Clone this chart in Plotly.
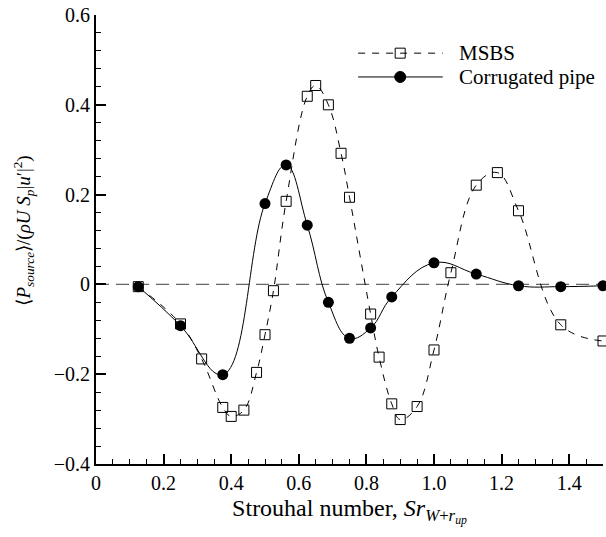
import plotly.graph_objects as go

# ---- data ----
msbs_x = [0.125, 0.25, 0.3125, 0.375, 0.4, 0.4375, 0.475, 0.5, 0.525, 0.5625,
          0.625, 0.65, 0.6875, 0.725, 0.75, 0.8125, 0.8375, 0.875, 0.9, 0.95,
          1.0, 1.05, 1.125, 1.1875, 1.25, 1.375, 1.5]
msbs_y = [-0.005, -0.088, -0.166, -0.274, -0.294, -0.280, -0.196, -0.112, -0.014, 0.185,
          0.419, 0.443, 0.400, 0.292, 0.194, -0.066, -0.162, -0.266, -0.301, -0.272,
          -0.146, 0.026, 0.221, 0.249, 0.164, -0.090, -0.126]

pipe_x = [0.125, 0.25, 0.375, 0.5, 0.5625, 0.625, 0.6875, 0.75, 0.8125, 0.875,
          1.0, 1.125, 1.25, 1.375, 1.5]
pipe_y = [-0.005, -0.092, -0.201, 0.180, 0.266, 0.132, -0.040, -0.120, -0.097, -0.028,
          0.048, 0.023, -0.003, -0.005, -0.003]

series_names = ["MSBS", "Corrugated pipe"]

x_ticks = [0, 0.2, 0.4, 0.6, 0.8, 1.0, 1.2, 1.4]
x_tick_labels = ["0", "0.2", "0.4", "0.6", "0.8", "1.0", "1.2", "1.4"]
y_ticks = [-0.4, -0.2, 0, 0.2, 0.4, 0.6]
y_tick_labels = ["\u22120.4", "\u22120.2", "0", "0.2", "0.4", "0.6"]

x_title = "Strouhal number, <i>Sr</i><sub><i>W</i>+<i>r</i><sub><i>up</i></sub></sub>"
y_title = ("\u27e8<i>P</i><sub><i>source</i></sub>\u27e9/(<i>\u03c1U S</i><sub><i>p</i></sub>"
           "|<i>u</i>\u2032|<sup>2</sup>)")

FONT = "Liberation Serif"

fig = go.Figure()

fig.add_trace(go.Scatter(
    x=msbs_x, y=msbs_y, name=series_names[0], mode="lines+markers", showlegend=False,
    line=dict(color="black", width=1, dash="7px,7px", shape="spline", smoothing=1.1),
    marker=dict(symbol="square-open", size=10, color="black", line=dict(width=1)),
    cliponaxis=False,
))
fig.add_trace(go.Scatter(
    x=pipe_x, y=pipe_y, name=series_names[1], mode="lines+markers", showlegend=False,
    line=dict(color="black", width=1, shape="spline", smoothing=1.2),
    marker=dict(symbol="circle", size=11, color="black"),
    cliponaxis=False,
))

# zero reference line
fig.add_shape(type="line", xref="paper", yref="y", x0=0, x1=1, y0=0, y1=0,
              line=dict(color="#666666", width=1.2, dash="13px,7px"), layer="below")

# ---- manual legend (paper coordinates) ----
leg_x0, leg_x1, leg_xm, leg_tx = 0.517, 0.684, 0.600, 0.712
leg_rows = [0.915, 0.862]
fig.add_shape(type="line", xref="paper", yref="paper", x0=leg_x0, x1=leg_x1,
              y0=leg_rows[0], y1=leg_rows[0], line=dict(color="black", width=1, dash="7px,7px"))
fig.add_shape(type="rect", xref="paper", yref="paper", xsizemode="pixel", ysizemode="pixel",
              xanchor=leg_xm, yanchor=leg_rows[0], x0=-5, x1=5, y0=-5, y1=5,
              line=dict(color="black", width=1), fillcolor="rgba(0,0,0,0)")
fig.add_shape(type="line", xref="paper", yref="paper", x0=leg_x0, x1=leg_x1,
              y0=leg_rows[1], y1=leg_rows[1], line=dict(color="black", width=1))
fig.add_shape(type="circle", xref="paper", yref="paper", xsizemode="pixel", ysizemode="pixel",
              xanchor=leg_xm, yanchor=leg_rows[1], x0=-5.5, x1=5.5, y0=-5.5, y1=5.5,
              line=dict(color="black", width=1), fillcolor="black")
for name, yy in zip(series_names, leg_rows):
    fig.add_annotation(text=name, xref="paper", yref="paper", x=leg_tx, y=yy,
                       xanchor="left", yanchor="middle", showarrow=False,
                       font=dict(family=FONT, size=21, color="black"))

# y-axis title as rotated annotation (positioned like the reference)
fig.add_annotation(text=y_title, xref="paper", yref="paper", x=-0.142, y=0.52,
                   xanchor="center", yanchor="middle", textangle=-90, showarrow=False,
                   font=dict(family=FONT, size=19, color="black"))

axis_common = dict(
    showline=True, linecolor="black", linewidth=2, mirror=False,
    ticks="inside", ticklen=10, tickwidth=2, tickcolor="black",
    showgrid=False, zeroline=False,
    tickfont=dict(family=FONT, size=20, color="black"),
)

fig.update_xaxes(
    range=[0, 1.5], tickmode="array", tickvals=x_ticks, ticktext=x_tick_labels,
    minor=dict(dtick=0.05, tick0=0, ticks="inside", ticklen=5, tickwidth=1, tickcolor="black"),
    title=dict(text=x_title, font=dict(family=FONT, size=24, color="black"), standoff=6),
    **axis_common,
)
fig.update_yaxes(
    range=[-0.4, 0.6], tickmode="array", tickvals=y_ticks, ticktext=y_tick_labels,
    minor=dict(dtick=0.04, tick0=0, ticks="inside", ticklen=5, tickwidth=1, tickcolor="black"),
    **axis_common,
)

fig.update_layout(
    width=606, height=537,
    margin=dict(l=96, r=3, t=15, b=73),
    paper_bgcolor="white", plot_bgcolor="white",
    font=dict(family=FONT, size=20, color="black"),
    showlegend=False,
)

fig.write_html("out.html")
